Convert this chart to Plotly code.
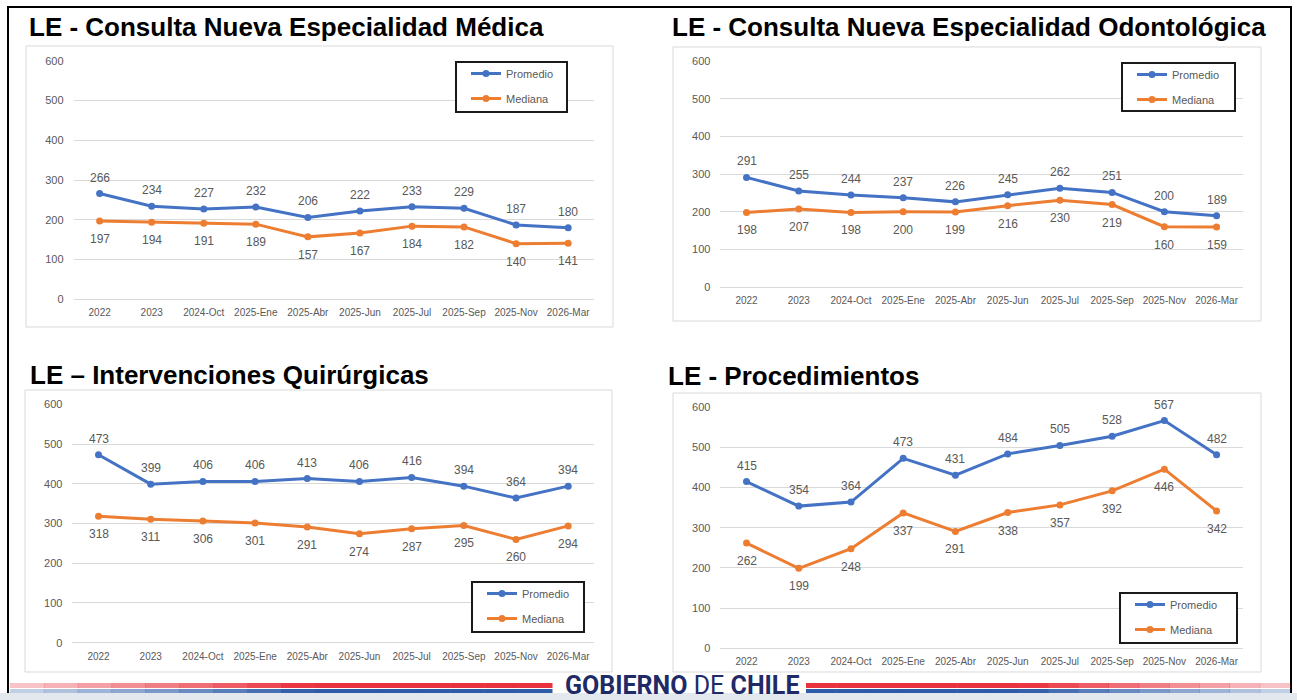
import plotly.graph_objects as go

# ---------------- data ----------------
categories = ["2022", "2023", "2024-Oct", "2025-Ene", "2025-Abr", "2025-Jun",
              "2025-Jul", "2025-Sep", "2025-Nov", "2026-Mar"]

medica_promedio = [266, 234, 227, 232, 206, 222, 233, 229, 187, 180]
medica_mediana = [197, 194, 191, 189, 157, 167, 184, 182, 140, 141]

odonto_promedio = [291, 255, 244, 237, 226, 245, 262, 251, 200, 189]
odonto_mediana = [198, 207, 198, 200, 199, 216, 230, 219, 160, 159]

quirur_promedio = [473, 399, 406, 406, 413, 406, 416, 394, 364, 394]
quirur_mediana = [318, 311, 306, 301, 291, 274, 287, 295, 260, 294]

proced_promedio = [415, 354, 364, 473, 431, 484, 505, 528, 567, 482]
proced_mediana = [262, 199, 248, 337, 291, 338, 357, 392, 446, 342]

titles = ["LE - Consulta Nueva Especialidad Médica",
          "LE - Consulta Nueva Especialidad Odontológica",
          "LE – Intervenciones Quirúrgicas",
          "LE - Procedimientos"]
series_names = ["Promedio", "Mediana"]
y_ticks = [0, 100, 200, 300, 400, 500, 600]

# ---------------- layout geometry (pixels) ----------------
W, H = 1297, 700
BLUE = "#4472C4"
ORANGE = "#ED7D31"
TXT = "#595959"
GRID = "#D9D9D9"
FONT = "Liberation Sans, Arial, sans-serif"


def fx(p):
    return p / W


def fy(p):
    return 1 - p / H


panels = [
    dict(prom=medica_promedio, medi=medica_mediana,
         plot=(73.6, 594.2, 60.7, 299.3), box=(26, 613, 46, 327),
         leg=(456, 567, 62, 112), title=(27, 27)),
    dict(prom=odonto_promedio, medi=odonto_mediana,
         plot=(720.4, 1242.7, 61, 287), box=(673, 1261, 47, 321),
         leg=(1122, 1235, 63, 111), title=(670, 27)),
    dict(prom=quirur_promedio, medi=quirur_mediana,
         plot=(72.4, 594.3, 404.3, 642.7), box=(25, 612, 390, 672),
         leg=(472, 584, 582, 632), title=(28, 375)),
    dict(prom=proced_promedio, medi=proced_mediana,
         plot=(720.4, 1242.7, 407.3, 648.3), box=(673, 1261, 393, 672),
         leg=(1120, 1237, 593, 643), title=(666, 376)),
]

fig = go.Figure()
annotations = []
shapes = []
layout_axes = {}

for i, p in enumerate(panels):
    n = "" if i == 0 else str(i + 1)
    xa, ya = "x" + n, "y" + n
    lg = "legend" + n
    for name, vals, color, shift in [(series_names[0], p["prom"], BLUE, 16),
                                     (series_names[1], p["medi"], ORANGE, -18)]:
        fig.add_trace(go.Scatter(
            x=categories, y=vals, mode="lines+markers", name=name,
            line=dict(color=color, width=3),
            marker=dict(size=7, color=color),
            xaxis=xa, yaxis=ya, legend=lg,
            legendgroup=f"{name}{i}", cliponaxis=False,
            hoverinfo="x+y+name"))
        for idx, v in enumerate(vals):
            # category axis: numeric x is the category index
            annotations.append(dict(
                x=idx, y=v, xref=xa, yref=ya, text=str(v), showarrow=False,
                yshift=shift, font=dict(size=12, color=TXT, family=FONT)))

    x0, x1, y0, y1 = p["plot"]
    layout_axes["xaxis" + n] = dict(
        domain=[fx(x0), fx(x1)], anchor=ya, type="category",
        categoryorder="array", categoryarray=categories,
        range=[-0.5, len(categories) - 0.5], showgrid=False, showline=False,
        zeroline=False, ticks="", ticklabelstandoff=6, automargin=False,
        tickfont=dict(size=10, color=TXT, family=FONT), fixedrange=True)
    layout_axes["yaxis" + n] = dict(
        domain=[fy(y1), fy(y0)], anchor=xa, range=[0, 600],
        tickvals=y_ticks, showgrid=True, gridcolor=GRID, gridwidth=1,
        zeroline=True, zerolinecolor=GRID, zerolinewidth=1, showline=False,
        ticks="", ticklabelstandoff=9, automargin=False,
        tickfont=dict(size=11, color=TXT, family=FONT), fixedrange=True)

    # chart-area frame
    bx0, bx1, by0, by1 = p["box"]
    shapes.append(dict(type="rect", xref="paper", yref="paper",
                       x0=fx(bx0), x1=fx(bx1), y0=fy(by1), y1=fy(by0),
                       line=dict(color=GRID, width=1), layer="below"))
    # legend frame
    lx0, lx1, ly0, ly1 = p["leg"]
    shapes.append(dict(type="rect", xref="paper", yref="paper",
                       x0=fx(lx0), x1=fx(lx1), y0=fy(ly1), y1=fy(ly0),
                       line=dict(color="#1a1a1a", width=2),
                       fillcolor="white", layer="above"))
    layout_axes[lg] = dict(
        x=fx(lx0 + 10), y=fy(ly0 - 3), xanchor="left", yanchor="top",
        bgcolor="rgba(0,0,0,0)", borderwidth=0,
        font=dict(size=11, color=TXT, family=FONT),
        traceorder="grouped", tracegroupgap=6, itemclick=False,
        itemdoubleclick=False)

    # title
    tx, ty = p["title"]
    annotations.append(dict(
        x=fx(tx), y=fy(ty), xref="paper", yref="paper", xanchor="left",
        yanchor="middle", showarrow=False, text="<b>" + titles[i] + "</b>",
        font=dict(size=26, color="black", family=FONT)))

# slide border
shapes.append(dict(type="rect", xref="paper", yref="paper",
                   x0=fx(8), x1=fx(1291), y0=fy(720), y1=fy(7),
                   line=dict(color="black", width=2), layer="below"))

# footer stripes
shapes.append(dict(type="rect", xref="paper", yref="paper",
                   x0=fx(0), x1=fx(W), y0=fy(700), y1=fy(693),
                   line=dict(width=0), fillcolor="#e3e8ef", layer="above"))
segs = 16
for side in ("left", "right"):
    a, b = (10, 552) if side == "left" else (806, 1290)
    step = (b - a) / segs
    for k in range(segs):
        s0 = a + k * step
        s1 = s0 + step + 0.5
        t = (k + 0.5) / segs
        op = 0.25 + 0.75 * min(1, (t if side == "left" else 1 - t) * 1.8)
        shapes.append(dict(type="rect", xref="paper", yref="paper",
                           x0=fx(s0), x1=fx(s1), y0=fy(688), y1=fy(683),
                           line=dict(width=0), fillcolor="#e8323d",
                           opacity=op, layer="above"))
        shapes.append(dict(type="rect", xref="paper", yref="paper",
                           x0=fx(s0), x1=fx(s1), y0=fy(693), y1=fy(689),
                           line=dict(width=0), fillcolor="#2d5ba8",
                           opacity=op, layer="above"))

annotations.append(dict(
    x=fx(682), y=fy(685), xref="paper", yref="paper", xanchor="center",
    yanchor="middle", showarrow=False,
    text="<b>GOBIERNO</b> DE <b>CHILE</b>",
    font=dict(size=25, color="#202a66", family="Roboto, sans-serif")))

fig.update_layout(
    width=W, height=H, autosize=False,
    margin=dict(l=0, r=0, t=0, b=0, pad=0, autoexpand=False),
    paper_bgcolor="white", plot_bgcolor="white",
    showlegend=True, annotations=annotations, shapes=shapes,
    **layout_axes)

fig.write_html(
    "out.html",
    config={"responsive": False, "displayModeBar": False},
    post_script="document.body.style.margin='0';"
                "document.body.style.overflow='hidden';")
